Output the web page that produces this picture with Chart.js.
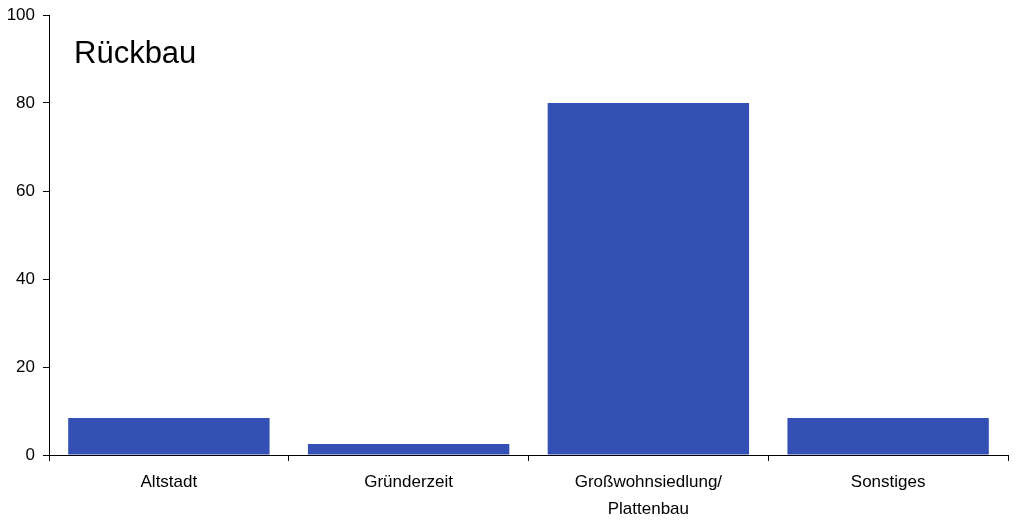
<!DOCTYPE html>
<html>
<head>
<meta charset="utf-8">
<script src="https://cdn.jsdelivr.net/npm/chart.js@4"></script>
<style>
  html, body { margin: 0; padding: 0; background: #fff; }
  #wrap { width: 1018px; height: 520px; }
</style>
</head>
<body>
<div id="wrap"><canvas id="chart" width="1018" height="520"></canvas></div>
<script>
const categories = [["Altstadt"], ["Gründerzeit"], ["Großwohnsiedlung/", "Plattenbau"], ["Sonstiges"]];
const values = [8.4, 2.5, 80, 8.4];
const yTicks = [0, 20, 40, 60, 80, 100];
const chartTitle = "Rückbau";

const titleInside = {
  id: "titleInside",
  afterDraw(chart) {
    const { ctx, chartArea } = chart;
    ctx.save();
    ctx.fillStyle = "#000";
    ctx.font = "31px 'Liberation Sans', Arial, sans-serif";
    ctx.textBaseline = "middle";
    ctx.textAlign = "left";
    ctx.fillText(chartTitle, chartArea.left + 25, chartArea.top + 39);
    ctx.restore();
  },
};

const ctx = document.getElementById("chart").getContext("2d");
new Chart(ctx, {
  type: "bar",
  data: {
    labels: categories,
    datasets: [
      {
        data: values,
        backgroundColor: "#3550b5",
        borderWidth: 0,
        barPercentage: 0.84,
        categoryPercentage: 1,
      },
    ],
  },
  options: {
    responsive: false,
    animation: false,
    layout: { padding: { top: 15, right: 10, left: 0, bottom: 0 } },
    plugins: { legend: { display: false }, tooltip: { enabled: false } },
    scales: {
      x: {
        offset: true,
        grid: { offset: true, drawOnChartArea: false, color: "#000", tickLength: 6 },
        border: { color: "#000", width: 1 },
        ticks: {
          color: "#000",
          padding: 8,
          maxRotation: 0,
          font: { family: "'Liberation Sans', Arial, sans-serif", size: 17, lineHeight: 1.6 },
        },
        afterFit(scale) { scale.height = 65; },
      },
      y: {
        min: 0,
        max: 100,
        afterBuildTicks(scale) { scale.ticks = yTicks.map((v) => ({ value: v })); },
        grid: { drawOnChartArea: false, color: "#000", tickLength: 6 },
        border: { color: "#000", width: 1 },
        ticks: {
          color: "#000",
          padding: 8,
          font: { family: "'Liberation Sans', Arial, sans-serif", size: 17 },
        },
        afterFit(scale) {
          scale.width = 49;
          scale.paddingTop = 0;
          scale.paddingBottom = 0;
        },
      },
    },
  },
  plugins: [titleInside],
});
</script>
</body>
</html>
